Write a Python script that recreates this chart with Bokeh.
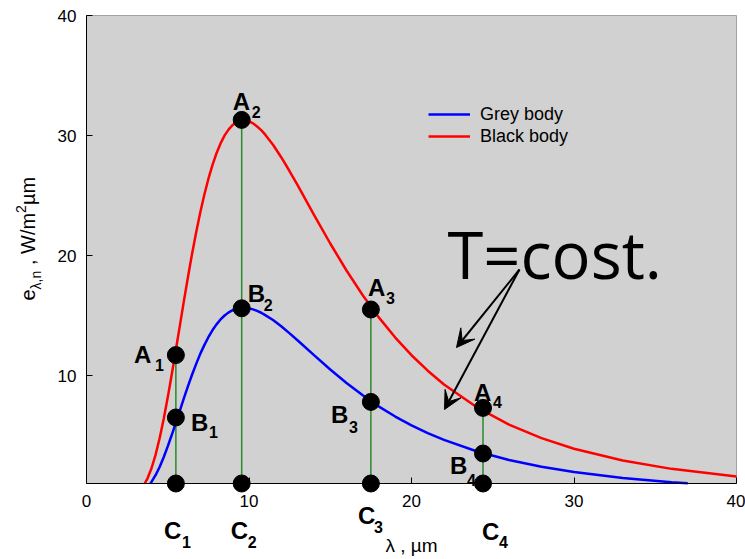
import math
from bokeh.plotting import figure
from bokeh.models import Range1d, FixedTicker, BoxAnnotation, Label, Arrow, VeeHead
from bokeh.embed import file_html
from bokeh.resources import INLINE

# ---- data (wavelength in µm, emissive power in W/m²µm) ----
lam_black = [3.58, 3.75, 4.0, 4.25, 4.5, 4.75, 5.0, 5.25, 5.5, 5.75, 6.0, 6.25, 6.5, 6.75, 7.0,
             7.25, 7.5, 7.75, 8.0, 8.25, 8.5, 8.75, 9.0, 9.25, 9.5, 9.75, 10.0, 10.25, 10.5,
             10.75, 11.0, 11.5, 12.0, 12.5, 13.0, 14.0, 15.0, 16.0, 17.0, 18.0, 19.0, 20.0,
             21.0, 22.0, 24.0, 26.0, 28.0, 30.0, 33.0, 36.0, 40.0]
e_black = [1.0, 1.41, 2.27, 3.39, 4.77, 6.38, 8.18, 10.12, 12.15, 14.20, 16.26, 18.25, 20.17,
           21.94, 23.59, 25.06, 26.38, 27.53, 28.52, 29.34, 30.01, 30.51, 30.88, 31.12, 31.26,
           31.26, 31.18, 31.01, 30.75, 30.45, 30.07, 29.19, 28.15, 27.02, 25.84, 23.39, 21.00,
           18.75, 16.69, 14.82, 13.16, 11.69, 10.40, 9.25, 7.37, 5.91, 4.78, 3.90, 2.92, 2.22,
           1.58]

lam_grey = [3.93, 4.0, 4.25, 4.5, 4.75, 5.0, 5.25, 5.5, 5.75, 6.0, 6.25, 6.5, 6.75, 7.0, 7.25,
            7.5, 7.75, 8.0, 8.25, 8.5, 8.75, 9.0, 9.25, 9.5, 9.75, 10.0, 10.25, 10.5, 10.75,
            11.0, 11.5, 12.0, 12.5, 13.0, 14.0, 15.0, 16.0, 17.0, 18.0, 19.0, 20.0, 21.0, 22.0,
            24.0, 26.0, 28.0, 30.0, 33.0, 36.0, 37.0]
e_grey = [1.0, 1.13, 1.69, 2.38, 3.19, 4.09, 5.06, 6.07, 7.10, 8.13, 9.13, 10.08, 10.97, 11.80,
          12.53, 13.19, 13.77, 14.26, 14.67, 15.00, 15.26, 15.44, 15.56, 15.63, 15.63, 15.59,
          15.51, 15.38, 15.23, 15.03, 14.60, 14.08, 13.51, 12.92, 11.70, 10.50, 9.38, 8.35,
          7.41, 6.58, 5.85, 5.20, 4.63, 3.69, 2.96, 2.39, 1.95, 1.46, 1.11, 1.02]

# marked wavelengths and the A (black), B (grey), C (axis) points
lam_pts = [5.5, 9.55, 17.5, 24.4]
A_vals = [11.7, 31.3, 15.5, 7.3]
B_vals = [6.5, 15.6, 7.8, 3.5]
C_vals = [1.0, 1.0, 1.0, 1.0]
pt_ids = ["1", "2", "3", "4"]

x_ticks = [0, 10, 20, 30, 40]
y_ticks = [10, 20, 30, 40]

# ---- page <-> data mapping (frame covers the whole canvas) ----
W, H = 745, 559
X0PX, XSCALE = 86, 16.25      # x=0 at 86 px, 16.25 px per µm
Y40PX, YSCALE = 15, 12.0      # y=40 at 15 px, 12 px per unit


def px_x(px):
    return (px - X0PX) / XSCALE


def px_y(py):
    return 40 - (py - Y40PX) / YSCALE


p = figure(width=W, height=H,
           x_range=Range1d(px_x(0), px_x(W)), y_range=Range1d(px_y(H), px_y(0)),
           min_border_left=0, min_border_right=0, min_border_top=0, min_border_bottom=0,
           toolbar_location=None, output_backend="svg", title=None)
p.background_fill_color = "white"
p.border_fill_color = "white"
p.outline_line_color = None
p.xgrid.visible = False
p.ygrid.visible = False

p.add_layout(BoxAnnotation(left=0, right=40, bottom=1, top=40, fill_color="#d1d1d1",
                           fill_alpha=1.0, line_color="black", line_width=1, level="underlay"))

# axes, fixed at the edges of the grey plotting area
p.xaxis.fixed_location = 1
p.yaxis.fixed_location = 0
p.xaxis.bounds = (0, 40)
p.yaxis.bounds = (1, 40)
p.xaxis.ticker = FixedTicker(ticks=x_ticks)
p.yaxis.ticker = FixedTicker(ticks=y_ticks)
for ax in (p.xaxis, p.yaxis):
    ax.major_tick_in = 6
    ax.major_tick_out = 0
    ax.minor_tick_line_color = None
    ax.major_label_text_font = "Liberation Sans"
    ax.major_label_text_font_size = "17px"
    ax.major_label_text_color = "black"
    ax.major_tick_line_color = "black"
    ax.axis_line_color = "black"
p.xaxis.major_label_standoff = 11
p.yaxis.major_label_standoff = 10

# vertical green lines
p.segment(x0=lam_pts, y0=C_vals, x1=lam_pts, y1=A_vals, line_color="#2a8a2a", line_width=1.5)

# curves
p.line(lam_grey, e_grey, line_color="#0000ff", line_width=2.5, legend_label="Grey body")
p.line(lam_black, e_black, line_color="#ff0000", line_width=2.5, legend_label="Black body")

# dots
for vals in (A_vals, B_vals, C_vals):
    p.scatter(lam_pts, vals, size=17, fill_color="black", line_color="black")

# legend
lg = p.legend[0]
lg.location = (428, 412)
lg.background_fill_alpha = 0
lg.border_line_color = None
lg.padding = 0
lg.margin = 0
lg.spacing = 0
lg.glyph_width = 42
lg.glyph_height = 22
lg.label_height = 22
lg.label_standoff = 10
lg.label_text_font = "Liberation Sans"
lg.label_text_font_size = "18px"
lg.label_text_color = "black"

SHIFT = 0.33  # baseline correction (fraction of font size)

# point labels (letter, offsets in px: dx, dy-down, sub dx, sub dy-down)
A_off = [(-42, 7, -21, 15), (-9, -10, 10, -3), (-3, -14, 15, -6), (-9, -7, 10, -1)]
B_off = [(15, 13, 33, 20), (6, -7, 22, 2), (-40, 21, -22, 30), (-33, 20, -16, 32)]
C_off = [(-12, 55, 6, 64), (-11, 55, 6, 64), (-13, 40, 3, 49), (-1, 56, 16, 64)]

for letter, vals, offs in (("A", A_vals, A_off), ("B", B_vals, B_off), ("C", C_vals, C_off)):
    for i in range(len(lam_pts)):
        dx, dy, sdx, sdy = offs[i]
        p.add_layout(Label(x=lam_pts[i], y=vals[i], x_offset=dx, y_offset=-(dy - SHIFT * 24),
                           text=letter, text_font="Liberation Sans", text_font_style="bold",
                           text_font_size="24px", text_align="left",
                           text_baseline="alphabetic", text_color="black"))
        p.add_layout(Label(x=lam_pts[i], y=vals[i], x_offset=sdx, y_offset=-(sdy - SHIFT * 16),
                           text=pt_ids[i], text_font="Liberation Sans", text_font_style="bold",
                           text_font_size="16px", text_align="left",
                           text_baseline="alphabetic", text_color="black"))

# T=cost. annotation and arrows
p.add_layout(Label(x=px_x(447), y=px_y(278 - 0.37 * 65), text="T=cost.", text_font="Open Sans",
                   text_font_size="65px", text_align="left", text_baseline="alphabetic",
                   text_color="black"))
for ex, ey in ((456, 347), (444, 409)):
    p.add_layout(Arrow(x_start=px_x(519), y_start=px_y(269), x_end=px_x(ex), y_end=px_y(ey),
                       line_width=2, line_color="black",
                       end=VeeHead(size=18, fill_color="black", line_color="black")))

# x axis title
p.add_layout(Label(x=20, y=px_y(551.5 - SHIFT * 19), text="λ , µm", text_font="Liberation Sans",
                   text_font_size="19px", text_align="center", text_baseline="alphabetic",
                   text_color="black"))

# y axis title pieces (rotated): text, font px, baseline x px, start y px
ypieces = [("e", 20, 34, 300), ("λ,n", 14, 40, 289), (", W/m", 20, 34, 264.5),
           ("2", 14, 25, 212.5), ("µm", 20, 34, 204.5)]
for txt, fs, bx, sy in ypieces:
    p.add_layout(Label(x=px_x(bx - SHIFT * fs), y=px_y(sy), text=txt, angle=math.pi / 2,
                       text_font="Liberation Sans", text_font_size=f"{fs}px",
                       text_align="left", text_baseline="alphabetic", text_color="black"))

open("out.html", "w").write(file_html(p, INLINE))
